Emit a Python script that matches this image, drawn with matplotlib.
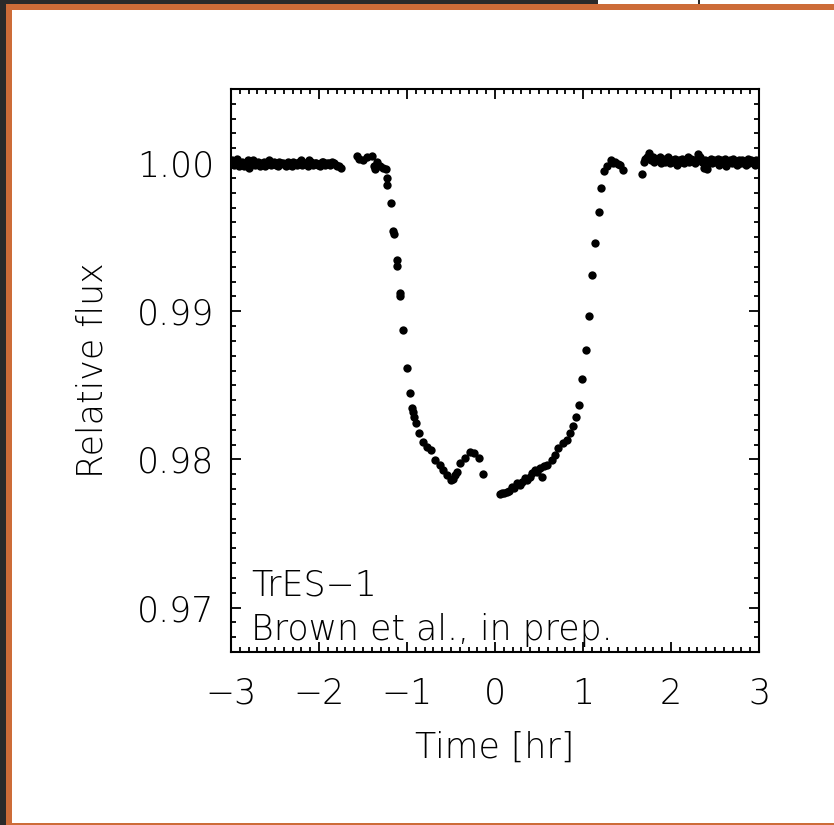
import matplotlib
matplotlib.use("Agg")
import matplotlib.pyplot as plt
from matplotlib.patches import Rectangle
from matplotlib.ticker import MultipleLocator, FixedLocator

# ---- data (time in hours, relative flux) ----
t_pre_a = [-2.99, -2.95, -2.91, -2.87, -2.83, -2.79, -2.75, -2.71, -2.67, -2.63,
           -2.59, -2.55, -2.51, -2.47, -2.43, -2.39, -2.35, -2.31, -2.27, -2.23,
           -2.19, -2.15, -2.11, -2.07, -2.03, -1.99, -1.95, -1.91, -1.87, -1.83,
           -1.79, -1.75]
f_pre_a = [1.0002, 1.0000, 0.9998, 1.0001, 0.9999, 0.9997, 1.0002, 1.0000, 0.9998, 1.0001,
           1.0000, 0.9999, 1.0001, 0.9998, 1.0000, 0.9999, 1.0001, 0.9998, 1.0000, 1.0001,
           0.9999, 1.0000, 1.0002, 0.9999, 1.0000, 0.9998, 1.0001, 1.0000, 0.9999, 1.0000,
           0.9998, 0.9997]
t_pre_b = [-2.97, -2.93, -2.89, -2.85, -2.81, -2.77, -2.73, -2.69, -2.65, -2.61,
           -2.57, -2.53, -2.49, -2.45, -2.41, -2.37, -2.33, -2.29, -2.25, -2.21,
           -2.17, -2.13, -2.09, -2.05, -2.01, -1.97, -1.93, -1.89, -1.85, -1.81,
           -1.77]
f_pre_b = [0.9999, 1.0003, 1.0000, 0.9998, 1.0002, 1.0000, 0.9999, 1.0001, 1.0000, 0.9998,
           1.0002, 1.0000, 0.9999, 1.0001, 1.0000, 0.9998, 0.9999, 1.0001, 0.9999, 1.0002,
           1.0000, 0.9998, 1.0001, 1.0000, 0.9999, 1.0001, 0.9999, 1.0000, 1.0001, 0.9999,
           0.9998]

t_ingress = [-1.57, -1.55, -1.50, -1.46, -1.40, -1.375, -1.36, -1.345, -1.31, -1.27,
             -1.235, -1.23, -1.224, -1.185, -1.159, -1.151, -1.117, -1.111, -1.080, -1.076,
             -1.042, -1.003, -0.966, -0.940, -0.930, -0.920, -0.898, -0.860, -0.815, -0.776,
             -0.731, -0.682, -0.625, -0.588, -0.542, -0.503, -0.477, -0.455, -0.428, -0.398,
             -0.341, -0.284, -0.239, -0.178, -0.140]
f_ingress = [1.0005, 1.0003, 1.0002, 1.0004, 1.0005, 0.9998, 0.9996, 1.0001, 0.9998, 0.9997,
             0.9996, 0.9990, 0.99851, 0.99733, 0.99544, 0.99520, 0.99348, 0.99303, 0.99123, 0.99100,
             0.98870, 0.98620, 0.98446, 0.98346, 0.98323, 0.98287, 0.98245, 0.98177, 0.98120, 0.98086,
             0.98064, 0.97997, 0.97963, 0.97929, 0.97895, 0.97861, 0.97868, 0.97895, 0.97918, 0.97974,
             0.98008, 0.98053, 0.98042, 0.98008, 0.97900]

t_egress = [0.057, 0.076, 0.10, 0.133, 0.16, 0.190, 0.22, 0.247, 0.28, 0.303,
            0.341, 0.36, 0.398, 0.42, 0.455, 0.48, 0.511, 0.531, 0.56, 0.588,
            0.644, 0.682, 0.719, 0.776, 0.822, 0.852, 0.890, 0.920, 0.958, 0.992,
            1.031, 1.068, 1.102, 1.140, 1.178, 1.210, 1.244, 1.276, 1.318, 1.341,
            1.364, 1.398, 1.426, 1.460, 1.667]
f_egress = [0.97767, 0.97772, 0.97775, 0.97782, 0.97790, 0.97816, 0.97805, 0.97839, 0.97830, 0.97850,
            0.97873, 0.97860, 0.97884, 0.97905, 0.97929, 0.97915, 0.97941, 0.97884, 0.97955, 0.97963,
            0.97997, 0.98030, 0.98076, 0.98109, 0.98132, 0.98177, 0.98226, 0.98285, 0.98364, 0.98542,
            0.98740, 0.98965, 0.99245, 0.99458, 0.99672, 0.99834, 0.99949, 0.99978, 1.00024, 1.00003,
            1.00005, 0.99997, 0.99986, 0.99956, 0.99929]

t_post = [1.69, 1.71, 1.73, 1.75, 1.77, 1.79, 1.81, 1.83, 1.85, 1.87,
          1.89, 1.91, 1.93, 1.95, 1.97, 1.99, 2.01, 2.03, 2.05, 2.07,
          2.09, 2.11, 2.13, 2.15, 2.17, 2.19, 2.21, 2.23, 2.25, 2.27,
          2.29, 2.31, 2.33, 2.35, 2.37, 2.39, 2.41, 2.43, 2.45, 2.47,
          2.49, 2.51, 2.53, 2.55, 2.57, 2.59, 2.61, 2.63, 2.65, 2.67,
          2.69, 2.71, 2.73, 2.75, 2.77, 2.79, 2.81, 2.83, 2.85, 2.87,
          2.89, 2.91, 2.93, 2.95, 2.97, 2.99]
f_post = [1.0001, 1.0003, 1.0004, 1.0007, 1.0002, 1.0004, 1.0001, 1.0003, 1.0002, 1.0004,
          1.0000, 1.0003, 1.0001, 1.0002, 1.0004, 1.0000, 1.0002, 1.0001, 1.0003, 0.9999,
          1.0002, 1.0001, 1.0003, 1.0000, 1.0002, 1.0004, 1.0001, 1.0003, 1.0002, 1.0000,
          1.0003, 1.0006, 1.0004, 1.0001, 0.9997, 1.0002, 0.9996, 1.0001, 1.0003, 1.0000,
          1.0002, 1.0001, 1.0003, 0.9999, 1.0002, 1.0000, 1.0003, 0.9998, 1.0001, 1.0002,
          1.0000, 1.0003, 1.0001, 0.9999, 1.0002, 1.0000, 1.0002, 1.0001, 0.9999, 1.0003,
          1.0000, 1.0002, 1.0001, 0.9999, 1.0002, 1.0000]

x_ticks = [-3, -2, -1, 0, 1, 2, 3]
y_ticks = [0.97, 0.98, 0.99, 1.00]
y_tick_labels = ["0.97", "0.98", "0.99", "1.00"]

# ---- figure ----
plt.rcParams["font.family"] = ["DejaVu Sans"]
plt.rcParams["font.weight"] = 200

W, H = 834, 825
fig = plt.figure(figsize=(W / 100, H / 100), dpi=100)
fig.patch.set_facecolor("white")

def px_rect(x0, y0, x1, y1, color):
    fig.add_artist(Rectangle((x0 / W, 1 - y1 / H), (x1 - x0) / W, (y1 - y0) / H,
                             transform=fig.transFigure, facecolor=color,
                             edgecolor="none", zorder=0))

dark = "#2a2a2a"
orange = "#cd6c38"
px_rect(0, 0, 6, H, dark)
px_rect(0, 0, 598, 4, dark)
px_rect(698, 0, 700, 4, dark)
px_rect(6, 4, W, 10, orange)
px_rect(6, 4, 12, H, orange)
px_rect(6, 823, W, 825, orange)

ax = fig.add_axes([231 / W, 1 - 652 / H, (759 - 231) / W, (652 - 89) / H])
ax.set_facecolor("white")

for tt, ff in [(t_pre_a, f_pre_a), (t_pre_b, f_pre_b), (t_ingress, f_ingress),
               (t_egress, f_egress), (t_post, f_post)]:
    ax.plot(tt, ff, "o", color="black", markersize=6.0, markeredgewidth=0)

ax.set_xlim(-3, 3)
ax.set_ylim(0.967, 1.005)

ax.xaxis.set_major_locator(FixedLocator(x_ticks))
ax.xaxis.set_minor_locator(MultipleLocator(0.1))
ax.yaxis.set_major_locator(FixedLocator(y_ticks))
ax.yaxis.set_minor_locator(MultipleLocator(0.001))
ax.set_xticklabels(["\u2212" + str(abs(v)) if v < 0 else str(v) for v in x_ticks])
ax.set_yticklabels(y_tick_labels)

fs = 25
ax.tick_params(which="both", direction="in", top=True, right=True,
               width=1.3, color="black")
ax.tick_params(which="major", length=7.5)
ax.tick_params(which="minor", length=3.5)
ax.tick_params(axis="x", which="major", pad=18, labelsize=fs)
ax.tick_params(axis="y", which="major", pad=12, labelsize=fs)
for lab in ax.get_xticklabels() + ax.get_yticklabels():
    lab.set_fontweight(200)
for sp in ax.spines.values():
    sp.set_linewidth(1.5)

ax.set_xlabel("Time [hr]", fontsize=fs, labelpad=14, fontweight=200)
ax.set_ylabel("Relative flux", fontsize=fs, labelpad=20, fontweight=200)

ax.text(-2.77, 0.97078, "TrES\u22121", fontsize=fs, ha="left", va="baseline", fontweight=200)
ax.text(-2.77, 0.96780, "Brown et al., in prep.", fontsize=fs, ha="left", va="baseline",
        fontweight=200)

fig.savefig("out.png", dpi=100, facecolor="white")
